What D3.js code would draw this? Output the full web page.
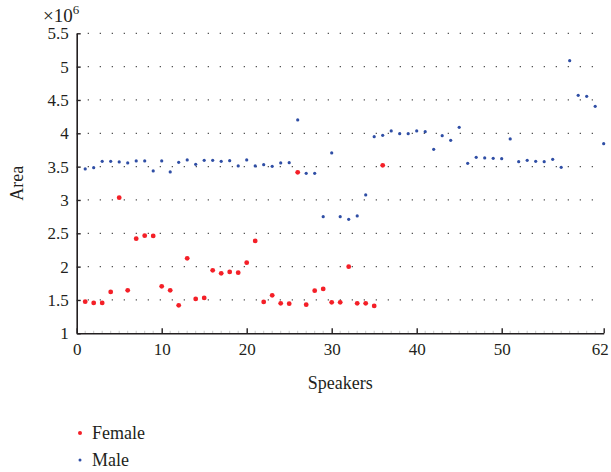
<!DOCTYPE html>
<html>
<head>
<meta charset="utf-8">
<script src="https://cdn.jsdelivr.net/npm/d3@7"></script>
<style>
  html, body { margin: 0; padding: 0; background: #fff; }
  svg { display: block; }
  text, tspan { font-family: "Liberation Serif", "DejaVu Serif", serif; fill: #231f20; }
</style>
</head>
<body>
<svg id="chart" width="611" height="472"></svg>
<script>
// Area per speaker (×10^6), speakers numbered from 1
const femaleArea = [1.475, 1.455, 1.455, 1.62, 3.035, 1.645, 2.42, 2.465, 2.46, 1.705,
  1.645, 1.42, 2.125, 1.515, 1.53, 1.945, 1.90, 1.92, 1.91, 2.06,
  2.385, 1.47, 1.57, 1.45, 1.445, 3.415, 1.43, 1.64, 1.665, 1.465,
  1.465, 2.0, 1.45, 1.45, 1.41, 3.52];
const maleArea = [3.465, 3.485, 3.58, 3.58, 3.57, 3.555, 3.585, 3.585, 3.435, 3.585,
  3.42, 3.565, 3.60, 3.535, 3.595, 3.595, 3.58, 3.59, 3.51, 3.60,
  3.51, 3.53, 3.505, 3.555, 3.56, 4.20, 3.40, 3.40, 2.75, 3.705,
  2.75, 2.71, 2.76, 3.075, 3.95, 3.97, 4.035, 3.995, 3.995, 4.035,
  4.025, 3.76, 3.965, 3.895, 4.09, 3.55, 3.64, 3.63, 3.625, 3.62,
  3.915, 3.575, 3.595, 3.58, 3.575, 3.61, 3.49, 5.09, 4.57, 4.555,
  4.405, 3.845];
const xTicks = [0, 10, 20, 30, 40, 50, 62];
const yTicks = [1, 1.5, 2, 2.5, 3, 3.5, 4, 4.5, 5, 5.5];
const seriesNames = ["Female", "Male"];

const svg = d3.select("#chart");
const x = d3.scaleLinear().domain([0, 62]).range([76.7, 603.7]);
const y = d3.scaleLinear().domain([1, 5.5]).range([333.3, 33.3]);

const ink = "#231f20";
const serif = "'Liberation Serif', 'DejaVu Serif', serif";

// dotted horizontal grid
svg.append("g")
  .selectAll("line")
  .data(yTicks.slice(1))
  .join("line")
  .attr("x1", x(0) + 11).attr("x2", x(62) - 6)
  .attr("y1", d => y(d)).attr("y2", d => y(d))
  .attr("stroke", "#555")
  .attr("stroke-width", 1.3)
  .attr("stroke-dasharray", "1.3,10.7");

// minor x ticks
svg.append("g")
  .selectAll("line")
  .data(d3.range(1, 62).filter(d => !xTicks.includes(d)))
  .join("line")
  .attr("x1", d => x(d)).attr("x2", d => x(d))
  .attr("y1", y(1)).attr("y2", y(1) - 2.5)
  .attr("stroke", "#bbb").attr("stroke-width", 0.8);

// x axis
const xAxis = svg.append("g")
  .attr("transform", `translate(0,${y(1)})`)
  .call(d3.axisBottom(x).tickValues(xTicks).tickFormat(d3.format("d")).tickSizeInner(-5).tickSizeOuter(0).tickPadding(10));
xAxis.attr("font-family", serif);
xAxis.select(".domain").attr("stroke", ink).attr("stroke-width", 1.6);
xAxis.selectAll(".tick line").attr("stroke", ink).attr("stroke-width", 1.4);
xAxis.selectAll(".tick text").attr("font-size", 17).attr("fill", ink)
  .attr("dx", d => d === 62 ? -4 : 0);

// y axis
const yAxis = svg.append("g")
  .attr("transform", `translate(${x(0)},0)`)
  .call(d3.axisLeft(y).tickValues(yTicks).tickFormat(d => d3.format("")(d)).tickSizeInner(-4).tickSizeOuter(0).tickPadding(8));
yAxis.attr("font-family", serif);
yAxis.select(".domain").attr("stroke", ink).attr("stroke-width", 1.6);
yAxis.selectAll(".tick line").attr("stroke", ink).attr("stroke-width", 1.4);
yAxis.selectAll(".tick text").attr("font-size", 17).attr("fill", ink);

// exponent label
const expo = svg.append("text").attr("x", 43).attr("y", 22).attr("font-size", 19);
expo.append("tspan").attr("fill", ink).text("×10");
expo.append("tspan").attr("fill", ink).attr("font-size", 13).attr("dy", -8).text("6");

// axis titles
svg.append("text").attr("x", x(31)).attr("y", 389)
  .attr("text-anchor", "middle").attr("font-size", 18).text("Speakers");
svg.append("text").attr("transform", `translate(23,${y(3.25)}) rotate(-90)`)
  .attr("text-anchor", "middle").attr("font-size", 18).text("Area");

// points
const red = "#f41f27", blue = "#2f4ea5";
svg.append("g").selectAll("circle")
  .data(maleArea)
  .join("circle")
  .attr("cx", (d, i) => x(i + 1)).attr("cy", d => y(d))
  .attr("r", 1.6).attr("fill", blue);
svg.append("g").selectAll("circle")
  .data(femaleArea)
  .join("circle")
  .attr("cx", (d, i) => x(i + 1)).attr("cy", d => y(d))
  .attr("r", 2.4).attr("fill", red);

// legend
const legend = svg.append("g");
seriesNames.forEach((name, k) => {
  const ly = 433 + k * 27;
  legend.append("circle").attr("cx", 80).attr("cy", ly)
    .attr("r", k === 0 ? 2 : 1.5).attr("fill", k === 0 ? red : blue);
  legend.append("text").attr("x", 92).attr("y", ly + 6)
    .attr("font-size", 18).text(name);
});
</script>
</body>
</html>
